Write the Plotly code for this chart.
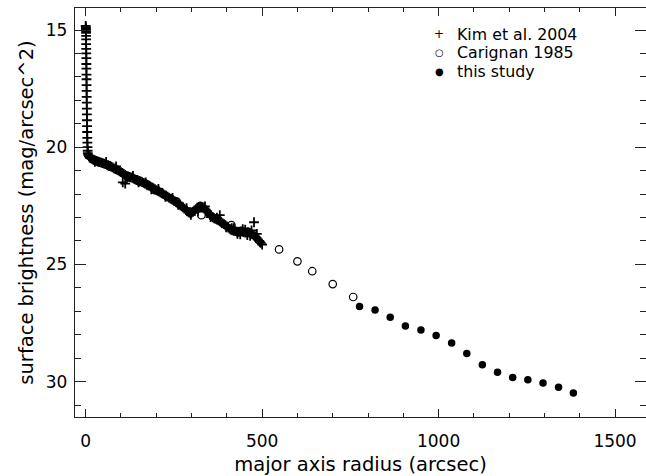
import plotly.graph_objects as go

# ---------------- data ----------------
# Kim et al. 2004 (crosses): nucleus spike + disk profile
kim_r = [0.0, 0.3, 0.5, 0.7, 0.9, 1.0, 1.1, 1.2, 1.3, 1.5, 1.6, 1.8, 1.9, 2.0, 2.2,
         2.3, 2.5, 2.6, 2.8, 3.0, 3.2, 3.4, 3.6, 3.9, 4.2, 4.5, 4.8, 5.2, 5.6, 6.0,
         7, 9, 11, 13, 15, 18, 21, 24, 27, 30, 33, 36, 40, 44, 48, 52, 56, 60, 64, 68,
         72, 76, 80, 84, 88, 92, 96, 100, 104, 108, 112, 116, 120, 124, 128, 132, 136,
         140, 144, 148, 152, 156, 160, 164, 168, 172, 176, 180, 184, 188, 192, 196,
         200, 204, 208, 212, 216, 220, 224, 228, 232, 236, 240, 244, 248, 252, 256,
         260, 264, 268, 272, 276, 280, 284, 288, 292, 296, 300, 304, 308, 312, 316,
         320, 324, 328, 332, 336, 340, 344, 348, 352, 356, 360, 364, 368, 372, 376,
         380, 384, 388, 392, 396, 400, 404, 408, 412, 416, 420, 424, 428, 432, 436,
         440, 444, 448, 452, 456, 460, 464, 468, 472, 476, 480, 484, 488, 492, 496, 500,
         105, 112, 380, 477, 420, 430, 445, 458, 470, 485,
         26, 58, 86, 118, 134, 150, 170, 186, 206, 226, 246, 262, 286, 298, 318, 338,
         354, 372, 398, 414, 438, 452, 466, 494]
kim_mag = [14.82, 14.88, 14.93, 14.98, 15.05, 15.12, 15.25, 15.4, 15.6, 15.8, 16.0, 16.2,
           16.45, 16.65, 16.9, 17.1, 17.35, 17.6, 17.85, 18.1, 18.35, 18.6, 18.85, 19.1,
           19.35, 19.6, 19.8, 20.0, 20.15, 20.25,
           20.33, 20.38, 20.43, 20.46, 20.48, 20.5, 20.53, 20.55, 20.56, 20.58, 20.6,
           20.62, 20.64, 20.66, 20.68, 20.7, 20.72, 20.75, 20.77, 20.8, 20.83, 20.86,
           20.9, 20.93, 20.96, 20.99, 21.03, 21.06, 21.1, 21.14, 21.18, 21.22, 21.25,
           21.27, 21.29, 21.31, 21.34, 21.37, 21.4, 21.42, 21.44, 21.46, 21.49, 21.52,
           21.55, 21.58, 21.61, 21.64, 21.68, 21.71, 21.75, 21.79, 21.83, 21.86, 21.89,
           21.93, 21.97, 22.0, 22.04, 22.07, 22.11, 22.15, 22.19, 22.22, 22.26, 22.3,
           22.34, 22.38, 22.43, 22.48, 22.52, 22.56, 22.62, 22.68, 22.74, 22.78, 22.8,
           22.79, 22.76, 22.7, 22.64, 22.58, 22.55, 22.53, 22.54, 22.56, 22.6, 22.66,
           22.73, 22.8, 22.88, 22.94, 22.99, 23.03, 23.06, 23.09, 23.12, 23.16, 23.2,
           23.24, 23.28, 23.33, 23.38, 23.43, 23.48, 23.52, 23.55, 23.57, 23.58, 23.6,
           23.61, 23.6, 23.59, 23.6, 23.62, 23.64, 23.63, 23.62, 23.65, 23.68, 23.72,
           23.76, 23.8, 23.86, 23.93, 24.0, 24.08, 24.15,
           21.5, 21.55, 22.9, 23.2, 23.45, 23.7, 23.5, 23.75, 23.55, 23.7,
           20.62, 20.63, 20.82, 21.28, 21.22, 21.5, 21.5, 21.8, 21.78, 22.12, 22.16,
           22.46, 22.6, 22.88, 22.75, 22.52, 22.98, 23.0, 23.42, 23.45, 23.72, 23.52,
           23.78, 24.05]

# Carignan 1985 (open circles)
car_r = [69, 121, 196, 258, 328, 413, 548, 600, 642, 700, 758]
car_mag = [20.83, 21.26, 21.83, 22.32, 22.9, 23.32, 24.36, 24.87, 25.29, 25.84, 26.39]

# this study (filled circles)
our_r = [776, 820, 863, 906, 950, 993, 1037, 1080, 1124, 1167, 1210, 1253, 1296, 1340, 1382]
our_mag = [26.8, 26.95, 27.25, 27.63, 27.8, 28.03, 28.35, 28.8, 29.28, 29.6, 29.83,
           29.92, 30.06, 30.24, 30.49]

legend_labels = ["Kim et al. 2004", "Carignan 1985", "this study"]
x_ticks = [0, 500, 1000, 1500]
y_ticks = [15, 20, 25, 30]

# ---------------- figure ----------------
W, H = 646, 476
L, R, T, B = 75, 0, 8, 59
FONT = "DejaVu Sans"

fig = go.Figure()
fig.add_trace(go.Scatter(x=kim_r, y=kim_mag, mode="markers", name=legend_labels[0],
                         marker=dict(symbol="cross-thin", size=7, color="black",
                                     line=dict(width=1.8, color="black"))))
fig.add_trace(go.Scatter(x=car_r, y=car_mag, mode="markers", name=legend_labels[1],
                         marker=dict(symbol="circle-open", size=7.5, color="black",
                                     line=dict(width=1.2, color="black"))))
fig.add_trace(go.Scatter(x=our_r, y=our_mag, mode="markers", name=legend_labels[2],
                         marker=dict(symbol="circle", size=7.5, color="black")))

axis_common = dict(showline=True, linecolor="#222", linewidth=1.3, mirror="allticks",
                   ticks="inside", tickcolor="#222", tickwidth=1.3,
                   showgrid=False, zeroline=False,
                   tickfont=dict(family=FONT, size=17, color="black"))

fig.update_xaxes(range=[-30.3, 1587.8], tickvals=x_ticks, ticklen=8,
                 minor=dict(dtick=100, ticklen=4, ticks="inside", tickcolor="#222",
                            tickwidth=1.2, showgrid=False),
                 title=dict(text="major axis radius (arcsec)", standoff=7,
                            font=dict(family=FONT, size=19.5, color="black")),
                 ticklabelstandoff=8, **axis_common)
fig.update_yaxes(range=[31.51, 14.06], tickvals=y_ticks, ticklen=11,
                 minor=dict(dtick=1, ticklen=6, ticks="inside", tickcolor="#222",
                            tickwidth=1.2, showgrid=False),
                 title=dict(text="surface brightness (mag/arcsec^2)", standoff=6,
                            font=dict(family=FONT, size=19.5, color="black")),
                 ticklabelstandoff=3, **axis_common)

# manual legend (keys + labels) in pixel-based paper coordinates
def px(xp):
    return (xp - L) / (W - L - R)

def py(yp):
    return (H - B - yp) / (H - T - B)

key_syms = ["+", "\u25cb", "\u25cf"]
key_sizes = [12, 10, 10]
rows = [34.2, 52.8, 71.4]
for lab, sym, ks, yr in zip(legend_labels, key_syms, key_sizes, rows):
    fig.add_annotation(x=px(439), y=py(yr), xref="paper", yref="paper", text=sym,
                       showarrow=False, xanchor="center", yanchor="middle", borderpad=0,
                       font=dict(family=FONT, size=ks, color="black"))
    fig.add_annotation(x=px(456), y=py(yr), xref="paper", yref="paper", text=lab,
                       showarrow=False, xanchor="left", yanchor="middle", borderpad=0,
                       font=dict(family=FONT, size=15.8, color="black"))

fig.update_layout(width=W, height=H, margin=dict(l=L, r=R, t=T, b=B, autoexpand=False),
                  plot_bgcolor="white", paper_bgcolor="white", showlegend=False,
                  font=dict(family=FONT, color="black"))

fig.write_html("out.html")
